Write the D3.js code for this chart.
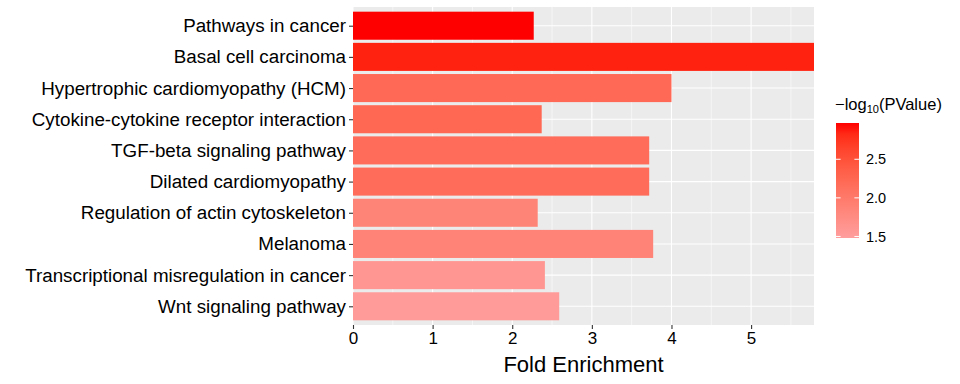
<!DOCTYPE html>
<html>
<head>
<meta charset="utf-8">
<script src="https://cdn.jsdelivr.net/npm/d3@7"></script>
<style>
  body { margin: 0; background: #fff; }
  text { font-family: "Liberation Sans", Arial, sans-serif; }
</style>
</head>
<body>
<svg width="960" height="384"></svg>
<script>
// data
var terms = ["Pathways in cancer", "Basal cell carcinoma", "Hypertrophic cardiomyopathy (HCM)",
  "Cytokine-cytokine receptor interaction", "TGF-beta signaling pathway", "Dilated cardiomyopathy",
  "Regulation of actin cytoskeleton", "Melanoma", "Transcriptional misregulation in cancer",
  "Wnt signaling pathway"];
var foldEnrichment = [2.27, 5.79, 4.0, 2.37, 3.72, 3.72, 2.32, 3.77, 2.41, 2.59];
var logP = [2.97, 2.87, 2.22, 2.23, 2.17, 2.17, 1.86, 1.88, 1.6, 1.53];
var xTicks = [0, 1, 2, 3, 4, 5];
var legendTicks = [1.5, 2.0, 2.5];

var svg = d3.select("svg"),
    margin = { top: 7, right: 146, bottom: 59, left: 353 },
    width = +svg.attr("width") - margin.left - margin.right,
    height = +svg.attr("height") - margin.top - margin.bottom;

var x = d3.scaleLinear().domain([0, d3.max(foldEnrichment)]).range([0, width]);

// discrete scale with ggplot's 0.6 expansion on each side
var unit = height / (terms.length - 1 + 1.2);
var y = d3.scalePoint().domain(terms).range([0.6 * unit, height - 0.6 * unit]);

var color = d3.scaleLinear().domain([1.48, 2.97]).range(["#ff9e9e", "#ff0000"])
    .interpolate(d3.interpolateLab);

var g = svg.append("g")
    .attr("transform", "translate(" + margin.left + "," + margin.top + ")");

// panel
g.append("rect").attr("width", width).attr("height", height).attr("fill", "#ebebeb");

// minor grid
g.selectAll(".minor")
  .data(d3.range(0.5, x.domain()[1], 1))
  .enter().append("line")
    .attr("x1", function(d) { return x(d); })
    .attr("x2", function(d) { return x(d); })
    .attr("y1", 0).attr("y2", height)
    .attr("stroke", "#fff").attr("stroke-width", 0.55);

// major grid
g.selectAll(".vmajor")
  .data(xTicks)
  .enter().append("line")
    .attr("x1", function(d) { return x(d); })
    .attr("x2", function(d) { return x(d); })
    .attr("y1", 0).attr("y2", height)
    .attr("stroke", "#fff").attr("stroke-width", 1.1);

g.selectAll(".hmajor")
  .data(terms)
  .enter().append("line")
    .attr("x1", 0).attr("x2", width)
    .attr("y1", function(d) { return y(d); })
    .attr("y2", function(d) { return y(d); })
    .attr("stroke", "#fff").attr("stroke-width", 1.1);

// bars
var barH = 0.9 * unit;
g.selectAll(".bar")
  .data(terms)
  .enter().append("rect")
    .attr("class", "bar")
    .attr("x", 0)
    .attr("y", function(d) { return y(d) - barH / 2; })
    .attr("width", function(d, i) { return x(foldEnrichment[i]); })
    .attr("height", barH)
    .attr("fill", function(d, i) { return color(logP[i]); });

// axes
var xAxis = g.append("g")
    .attr("transform", "translate(0," + height + ")")
    .call(d3.axisBottom(x).tickValues(xTicks).tickFormat(d3.format("d")).tickSize(4).tickPadding(3));
xAxis.select(".domain").remove();
xAxis.selectAll("line").attr("stroke", "#333").attr("stroke-width", 1.1);
xAxis.selectAll("text").attr("fill", "#000").style("font-size", "17px");

var yAxis = g.append("g")
    .call(d3.axisLeft(y).tickSize(4).tickPadding(3));
yAxis.select(".domain").remove();
yAxis.selectAll("line").attr("stroke", "#333").attr("stroke-width", 1.1);
yAxis.selectAll("text").attr("fill", "#000").style("font-size", "18.8px");

g.append("text")
    .attr("x", width / 2)
    .attr("y", height + 47)
    .attr("text-anchor", "middle")
    .style("font-size", "22px")
    .text("Fold Enrichment");

// legend
var lx = 836, ly = 123, lw = 23, lh = 115;
var ly2 = d3.scaleLinear().domain(color.domain()).range([ly + lh, ly]);

var grad = svg.append("defs").append("linearGradient")
    .attr("id", "grad").attr("x1", 0).attr("y1", 1).attr("x2", 0).attr("y2", 0);
grad.selectAll("stop")
  .data(d3.range(0, 1.0001, 0.1))
  .enter().append("stop")
    .attr("offset", function(d) { return d; })
    .attr("stop-color", function(d) {
      return color(color.domain()[0] + d * (color.domain()[1] - color.domain()[0]));
    });

svg.append("rect")
    .attr("x", lx).attr("y", ly).attr("width", lw).attr("height", lh)
    .attr("fill", "url(#grad)");

var lt = svg.append("g");
lt.selectAll(".tl")
  .data(legendTicks)
  .enter().append("line")
    .attr("x1", lx).attr("x2", lx + 4.6)
    .attr("y1", function(d) { return ly2(d); })
    .attr("y2", function(d) { return ly2(d); })
    .attr("stroke", "#fff");
lt.selectAll(".tr")
  .data(legendTicks)
  .enter().append("line")
    .attr("x1", lx + lw - 4.6).attr("x2", lx + lw)
    .attr("y1", function(d) { return ly2(d); })
    .attr("y2", function(d) { return ly2(d); })
    .attr("stroke", "#fff");
lt.selectAll("text")
  .data(legendTicks)
  .enter().append("text")
    .attr("x", lx + lw + 7)
    .attr("y", function(d) { return ly2(d); })
    .attr("dy", "0.36em")
    .style("font-size", "14.5px")
    .text(function(d) { return d3.format(".1f")(d); });

var title = svg.append("text")
    .attr("x", lx - 1)
    .attr("y", 110)
    .style("font-size", "16.5px");
title.append("tspan").text("\u2212log");
title.append("tspan").attr("baseline-shift", "-25%").style("font-size", "11px").text("10");
title.append("tspan").text("(PValue)");
</script>
</body>
</html>
